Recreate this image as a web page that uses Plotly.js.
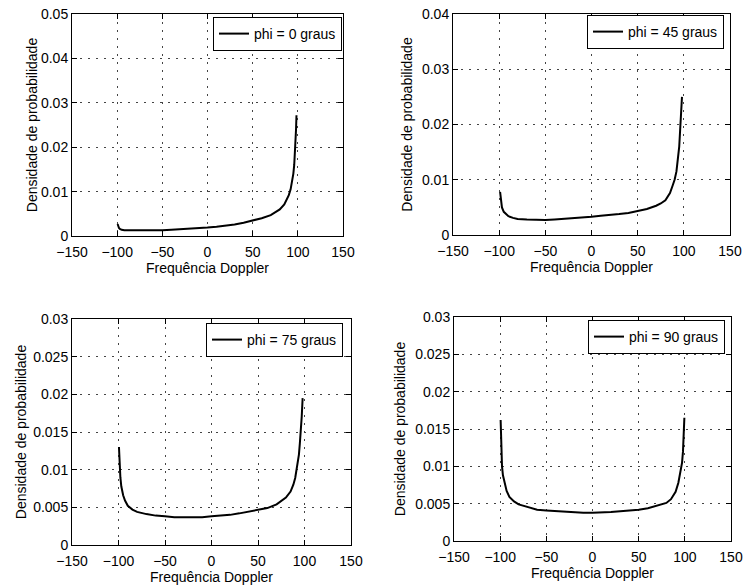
<!DOCTYPE html>
<html>
<head>
<meta charset="utf-8">
<script src="https://cdn.plot.ly/plotly-3.0.1.min.js"></script>
<style>html,body{margin:0;padding:0;background:#fff;}#chart{width:745px;height:585px;}</style>
</head>
<body>
<div id="chart"></div>
<script>
// ---- data ----
const legendNames = ["phi = 0 graus", "phi = 45 graus", "phi = 75 graus", "phi = 90 graus"];
const xTitle = "Frequência Doppler";
const yTitle = "Densidade de probabilidade";

const freqPhi0 = [-99.5, -99, -98, -97, -95, -92, -90, -85, -80, -70, -60, -50, -40, -30, -20, -10, 0, 10, 20, 30, 40, 50, 60, 70, 75, 80, 85, 88, 90, 92, 94, 95, 96, 97, 98, 98.5];
const densPhi0 = [0.0027, 0.0022, 0.0018, 0.0016, 0.0014, 0.0013, 0.0013, 0.0012, 0.0012, 0.0012, 0.0013, 0.0013, 0.0014, 0.0015, 0.0016, 0.0017, 0.0019, 0.0021, 0.0023, 0.0026, 0.0030, 0.0035, 0.0040, 0.0047, 0.0053, 0.0060, 0.0071, 0.0082, 0.0092, 0.0105, 0.0125, 0.0140, 0.0160, 0.0190, 0.0240, 0.0272];

const freqPhi45 = [-99, -98.5, -98, -97, -95, -92, -90, -85, -80, -70, -60, -50, -40, -30, -20, -10, 0, 10, 20, 30, 40, 50, 60, 70, 75, 80, 85, 88, 90, 92, 94, 95, 96, 97, 98];
const densPhi45 = [0.0078, 0.0070, 0.0060, 0.0050, 0.0042, 0.0036, 0.0034, 0.0031, 0.0029, 0.0028, 0.0027, 0.0027, 0.0028, 0.0029, 0.0030, 0.0031, 0.0033, 0.0035, 0.0036, 0.0038, 0.0040, 0.0043, 0.0047, 0.0053, 0.0057, 0.0063, 0.0076, 0.0090, 0.0100, 0.0115, 0.0140, 0.0160, 0.0190, 0.0220, 0.0250];

const freqPhi75 = [-99.5, -99, -98, -97, -95, -93, -90, -85, -80, -70, -60, -50, -40, -30, -20, -10, 0, 10, 20, 30, 40, 50, 60, 70, 75, 80, 85, 88, 90, 92, 94, 95, 96, 97, 98];
const densPhi75 = [0.0130, 0.0110, 0.0090, 0.0078, 0.0066, 0.0059, 0.0052, 0.0047, 0.0044, 0.0041, 0.0039, 0.0038, 0.0037, 0.0037, 0.0037, 0.0037, 0.0038, 0.0039, 0.0040, 0.0042, 0.0044, 0.0046, 0.0049, 0.0054, 0.0058, 0.0063, 0.0071, 0.0080, 0.0089, 0.0102, 0.0120, 0.0135, 0.0150, 0.0170, 0.0195];

const freqPhi90 = [-99.5, -99, -98, -97, -95, -93, -90, -85, -80, -70, -60, -50, -40, -30, -20, -10, 0, 10, 20, 30, 40, 50, 60, 70, 80, 85, 90, 93, 95, 97, 98, 99, 99.5];
const densPhi90 = [0.0162, 0.0125, 0.0100, 0.0088, 0.0075, 0.0067, 0.0059, 0.0053, 0.0049, 0.0045, 0.0042, 0.0041, 0.0040, 0.0039, 0.0038, 0.0038, 0.0038, 0.0038, 0.0039, 0.0040, 0.0041, 0.0042, 0.0044, 0.0047, 0.0051, 0.0056, 0.0066, 0.0078, 0.0090, 0.0105, 0.0120, 0.0145, 0.0165];

const yRanges = [[0, 0.05], [0, 0.04], [0, 0.03], [0, 0.03]];
const yDticks = [0.01, 0.01, 0.005, 0.005];
const xRange = [-150, 150];

// ---- layout ----
const FONT = "Liberation Sans, Arial, Helvetica, sans-serif";
const xs = [freqPhi0, freqPhi45, freqPhi75, freqPhi90];
const ys = [densPhi0, densPhi45, densPhi75, densPhi90];
const W = 745, H = 585;
// plot boxes in pixels [left, right, top, bottom]
const boxes = [[72, 343, 14, 236], [453, 730, 14, 235], [72, 351, 319, 545], [454, 731, 317, 541]];
const legendPos = [[342, 17], [724, 15], [343, 323], [725, 320]];
const yTitleStandoff = [0, 6, 3, 6];
const xTitleStandoff = [1, 1, 0, 0];

const traces = [];
const layout = {
  width: W, height: H,
  margin: {l: 0, r: 0, t: 0, b: 0},
  paper_bgcolor: "#fff", plot_bgcolor: "#fff",
  font: {family: FONT, size: 14, color: "#000"},
  showlegend: true
};

for (let i = 0; i < 4; i++) {
  const s = i === 0 ? "" : String(i + 1);
  traces.push({
    x: xs[i], y: ys[i], type: "scatter", mode: "lines",
    name: legendNames[i],
    line: {color: "#000", width: 2},
    xaxis: "x" + s, yaxis: "y" + s,
    legend: "legend" + s
  });
  const b = boxes[i];
  const axCommon = {
    ticks: "inside", ticklen: 5, tickcolor: "#000", tickwidth: 1,
    showline: true, linecolor: "#000", linewidth: 1, mirror: "ticks",
    showgrid: true, gridcolor: "#444", griddash: "2px,6px", gridwidth: 1,
    zeroline: false, ticklabeloverflow: "allow",
    tickfont: {family: FONT, size: 14, color: "#000"}
  };
  layout["xaxis" + s] = Object.assign({}, axCommon, {
    domain: [b[0] / W, b[1] / W],
    anchor: "y" + s,
    range: xRange, tick0: -150, dtick: 50,
    ticklabelstandoff: 3,
    title: {text: xTitle, font: {family: FONT, size: 14, color: "#000"}, standoff: xTitleStandoff[i]}
  });
  layout["yaxis" + s] = Object.assign({}, axCommon, {
    domain: [1 - b[3] / H, 1 - b[2] / H],
    anchor: "x" + s,
    range: yRanges[i], tick0: 0, dtick: yDticks[i],
    title: {text: yTitle, font: {family: FONT, size: 14, color: "#000"}, standoff: yTitleStandoff[i]}
  });
  const lp = legendPos[i];
  layout["legend" + s] = {
    x: lp[0] / W, y: 1 - lp[1] / H, xanchor: "right", yanchor: "top",
    xref: "paper", yref: "paper",
    bgcolor: "#fff", bordercolor: "#000", borderwidth: 1,
    font: {family: FONT, size: 14, color: "#000"},
    itemwidth: 30
  };
}

Plotly.newPlot("chart", traces, layout, {staticPlot: true, displayModeBar: false});
</script>
</body>
</html>
